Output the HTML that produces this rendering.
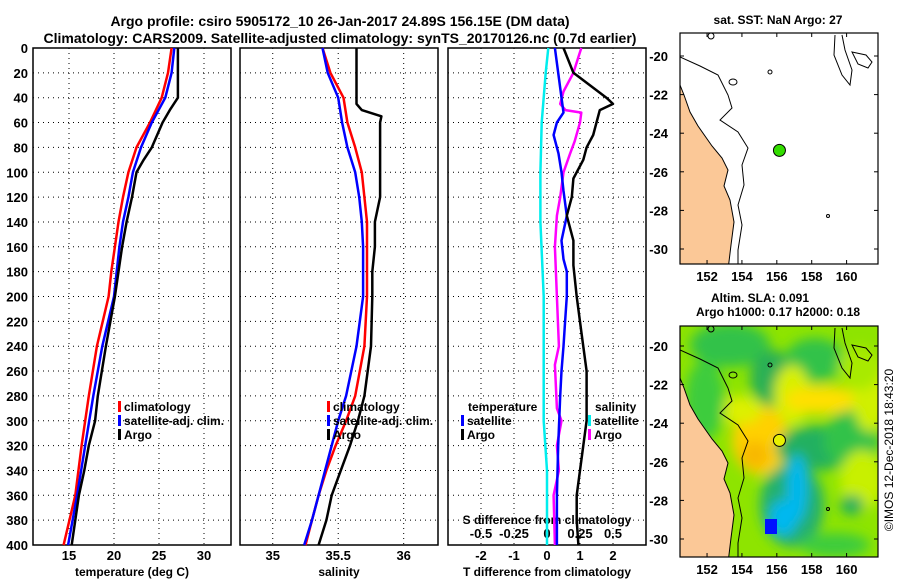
<!DOCTYPE html>
<html><head><meta charset="utf-8"><style>
body{margin:0;background:#fff;}
svg{display:block;font-family:"Liberation Sans",sans-serif;font-weight:bold;}
</style></head><body>
<svg id="c" width="900" height="580" viewBox="0 0 900 580" xmlns="http://www.w3.org/2000/svg">
<text x="340" y="26" font-size="14" text-anchor="middle">Argo profile: csiro 5905172_10 26-Jan-2017 24.89S 156.15E (DM data)</text>
<text x="340" y="43" font-size="14" text-anchor="middle">Climatology: CARS2009. Satellite-adjusted climatology: synTS_20170126.nc (0.7d earlier)</text>
<g id="g"></g>
</svg>
<script>
// ---- data ----
const depthT = [0,20,40,50,60,80,90,100,120,140,160,180,200,240,280,300,320,340,360,380,400];
const argoT = [27.1,27.1,27.1,26.2,25.4,24.2,23.3,22.5,22.0,21.4,20.9,20.5,20.1,19.1,18.2,17.9,17.2,16.7,16.1,15.7,15.3];
const depthC = [0,20,40,60,80,100,120,140,160,180,200,240,280,320,360,400];
const climT = [26.4,26.0,25.3,24.0,22.5,21.6,21.0,20.5,20.1,19.7,19.4,18.1,17.2,16.4,15.7,14.4];
const satT = [26.7,26.4,25.7,24.2,23.0,22.1,21.6,21.0,20.6,20.3,20.0,18.7,17.7,16.8,15.9,14.9];
const depthS = [0,45,50,55,60,120,140,160,180,200,240,280,300,320,340,360,380,400];
const argoS = [35.64,35.64,35.68,35.83,35.82,35.82,35.78,35.78,35.76,35.76,35.75,35.70,35.65,35.59,35.52,35.45,35.41,35.35];
const depthCS = [0,20,40,60,80,100,120,140,160,180,200,240,280,300,320,340,360,380,400];
const climS = [35.38,35.44,35.54,35.57,35.63,35.68,35.70,35.72,35.72,35.72,35.72,35.70,35.63,35.56,35.48,35.41,35.35,35.30,35.25];
const satS = [35.38,35.42,35.50,35.53,35.57,35.63,35.66,35.68,35.69,35.69,35.69,35.64,35.56,35.50,35.45,35.40,35.35,35.30,35.24];
const depthDA = [0,20,30,40,45,50,60,70,80,90,105,120,135,155,175,200,230,260,280,300,320,340,360,380,400];
const argoDT = [0.5,0.8,1.3,1.8,2.0,1.6,1.5,1.4,1.2,1.1,0.8,0.75,0.6,0.8,0.8,0.9,1.05,1.2,1.2,1.2,1.1,1.0,0.9,0.9,0.95];
const depthDS = [0,20,40,52,60,70,85,100,115,135,155,170,180,200,220,240,260,280,320,360,400];
const satDT = [0.24,0.34,0.44,0.5,0.3,0.2,0.35,0.44,0.5,0.6,0.44,0.5,0.6,0.6,0.55,0.5,0.44,0.4,0.34,0.3,0.3];
const depthMS = [0,20,35,45,50,52,60,75,85,100,120,135,160,200,240,255,290,300,320,340,360,400];
const argoDS = [0.26,0.2,0.125,0.1,0.14,0.26,0.25,0.21,0.175,0.125,0.1,0.075,0.06,0.075,0.09,0.06,0.075,0.11,0.075,0.09,0.05,0.06];
const depthCy = [0,20,60,100,140,200,300,340,400];
const satDS = [0.01,-0.01,-0.04,-0.05,-0.05,-0.025,-0.025,0,0];
const depthTicks = [0,20,40,60,80,100,120,140,160,180,200,220,240,260,280,300,320,340,360,380,400];
const tTicks = [15,20,25,30];
const sTicks = [35,35.5,36];
const dTTicks = [-2,-1,0,1,2];
const dSTicks = [-0.5,-0.25,0,0.25,0.5];
const dSLabels = ['-0.5','-0.25','0','0.25','0.5'];
const latTicks = [-20,-22,-24,-26,-28,-30];
const lonTicks = [152,154,156,158,160];

// ---- helpers ----
const NS='http://www.w3.org/2000/svg';
const G=document.getElementById('g');
function mk(tag,attrs,parent){const e=document.createElementNS(NS,tag);for(const k in attrs)e.setAttribute(k,attrs[k]);(parent||G).appendChild(e);return e;}
const top0=48,bot0=545;
const yD=d=>top0+(d/400)*(bot0-top0);
function scaleX(x0,x1,v0,v1){return v=>x0+(v-v0)/(v1-v0)*(x1-x0);}
const xT=scaleX(33,231,11,33);
const xS=scaleX(240,438,34.75,36.262);
const xDT=scaleX(448,646,-3,3);
const xDS=v=>xDT(v*4);

function panel(x0,name){
  const r=mk('rect',{x:x0,y:top0,width:198,height:bot0-top0,fill:'none',stroke:'#000','stroke-width':1.5});
  
  
  depthTicks.slice(1,-1).forEach(d=>{
    const l=mk('line',{x1:x0,x2:x0+198,y1:yD(d),y2:yD(d),stroke:'#000','stroke-dasharray':'1,4','stroke-width':1});
    
    
  });
}
function vgrid(vals,sx,name){
  vals.forEach(v=>{
    const l=mk('line',{x1:sx(v),x2:sx(v),y1:top0,y2:bot0,stroke:'#000','stroke-dasharray':'1,4','stroke-width':1});
    
    
  });
}
function line(depths,vals,sx,color,name,w){
  const pts=depths.map((d,i)=>sx(vals[i]).toFixed(1)+','+yD(d).toFixed(1)).join(' ');
  const p=mk('polyline',{points:pts,fill:'none',stroke:color,'stroke-width':w||2.5,'stroke-linejoin':'round'});
  
  
}
function txt(x,y,s,size,anchor,name,fill){
  const t=mk('text',{x:x,y:y,'font-size':size,'text-anchor':anchor||'middle',fill:fill||'#000'});
  t.textContent=s;
  
  
  return t;
}
function legItem(x,y,color,label,name){
  const b=mk('rect',{x:x,y:y-10,width:3,height:11,fill:color});
  
  
  txt(x+6,y,label,12,'start',name);
}

panel(33,'temperature-panel');panel(240,'salinity-panel');panel(448,'difference-panel');
vgrid(tTicks,xT,'grid-line-v');vgrid(sTicks,xS,'grid-line-v');vgrid(dTTicks,xDT,'grid-line-v');

depthTicks.forEach(d=>txt(28,yD(d)+5,String(d),13,'end','depth-tick-label'));
tTicks.forEach(v=>txt(xT(v),560,String(v),13,'middle','temp-tick-label'));
sTicks.forEach(v=>txt(xS(v),560,String(v),13,'middle','salinity-tick-label'));
dTTicks.forEach(v=>txt(xDT(v),560,String(v),13,'middle','tdiff-tick-label'));
dSTicks.forEach((v,i)=>txt(xDS(v),538,dSLabels[i],13,'middle','sdiff-tick-label'));
txt(132,576,'temperature (deg C)',12,'middle','temp-axis-title');
txt(339,576,'salinity',12,'middle','salinity-axis-title');
txt(547,576,'T difference from climatology',12,'middle','tdiff-axis-title');
txt(547,524,'S difference from climatology',12,'middle','sdiff-axis-title');

line(depthC,climT,xT,'#f00','temp-climatology-line');
line(depthC,satT,xT,'#00f','temp-satellite-line');
line(depthT,argoT,xT,'#000','temp-argo-line');
line(depthCS,climS,xS,'#f00','salinity-climatology-line');
line(depthCS,satS,xS,'#00f','salinity-satellite-line');
line(depthS,argoS,xS,'#000','salinity-argo-line');
line(depthCy,satDS,xDS,'#0ee','sdiff-satellite-line');
line(depthMS,argoDS,xDS,'#f0f','sdiff-argo-line');
line(depthDS,satDT,xDT,'#00f','tdiff-satellite-line');
line(depthDA,argoDT,xDT,'#000','tdiff-argo-line');

legItem(118,411,'#f00','climatology','legend-climatology');
legItem(118,425,'#00f','satellite-adj. clim.','legend-satellite');
legItem(118,439,'#000','Argo','legend-argo');
legItem(327,411,'#f00','climatology','legend-climatology');
legItem(327,425,'#00f','satellite-adj. clim.','legend-satellite');
legItem(327,439,'#000','Argo','legend-argo');
txt(468,411,'temperature',12,'start','legend-temperature-header');
legItem(461,425,'#00f','satellite','legend-t-satellite');
legItem(461,439,'#000','Argo','legend-t-argo');
txt(595,411,'salinity',12,'start','legend-salinity-header');
legItem(588,425,'#0ee','satellite','legend-s-satellite');
legItem(588,439,'#f0f','Argo','legend-s-argo');

// ---- maps ----
const mx0=680,mx1=878;
const lonX=scaleX(mx0,mx1,150.45,161.8);
function map(yTop,yBot,lat20,name,sla){
  const latY=l=>lat20+(-20-l)*19.3;
  const g=mk('g',{});
  
  
  const cid='clip'+name;
  const cp=mk('clipPath',{id:cid},g);mk('rect',{x:mx0,y:yTop,width:mx1-mx0,height:yBot-yTop},cp);
  const inner=mk('g',{'clip-path':'url(#'+cid+')'},g);
  if(sla){
    mk('rect',{x:mx0,y:yTop,width:198,height:yBot-yTop,fill:'#8ee400'},inner);
    const f=mk('filter',{id:'bl',x:'-50%',y:'-50%',width:'200%',height:'200%'},g);mk('feGaussianBlur',{stdDeviation:6},f);
    const bg=mk('g',{filter:'url(#bl)'},inner);
    const blobs=[[730,345,40,22,'#33c24a'],[772,378,22,28,'#2bb055'],[815,360,30,22,'#33c24a'],[792,395,18,30,'#d8f000'],[822,400,38,14,'#ffe000'],[760,440,28,35,'#ffd000'],[755,455,14,14,'#f8b800'],[818,448,42,22,'#22b060'],[852,440,28,30,'#33c24a'],[792,505,32,42,'#22b070'],[797,488,10,34,'#00b8f0'],[783,518,14,18,'#00b8f0'],[862,480,22,30,'#c8f000'],[870,392,18,40,'#d0f000'],[835,545,35,12,'#3ccc3c'],[852,505,12,10,'#22b060'],[860,368,22,22,'#a8ea00'],[740,410,22,14,'#ddf000'],[705,400,20,40,'#3ccc3c']];
    blobs.forEach(b=>mk('ellipse',{cx:b[0],cy:b[1],rx:b[2],ry:b[3],fill:b[4]},bg));
    mk('rect',{x:765,y:(yTop+193),width:12,height:15,fill:'#0010ff'},inner);
  }
  const s=yTop-33;
  const coast=[[680,85],[684,95],[690,112],[698,126],[712,146],[722,158],[728,170],[724,186],[730,200],[734,222],[731,245],[728,270]];
  const land='M680,'+(yTop)+' L680,'+(85+s)+' '+coast.map(p=>'L'+p[0]+','+(p[1]+s)).join(' ')+' L680,'+(yBot)+' Z';
  mk('path',{d:land,fill:'#fbc897',stroke:'#000','stroke-width':1},inner);
  const iso=[[680,57],[700,66],[718,75],[728,95],[732,108],[720,120],[738,132],[748,148],[742,165],[744,185],[738,205],[742,225],[738,250],[738,270]];
  mk('polyline',{points:iso.map(p=>p[0]+','+(p[1]+s)).join(' '),fill:'none',stroke:'#000','stroke-width':1},inner);
  mk('path',{d:`M835,${35+s} L834,${55+s} L842,${75+s} L850,${85+s} L852,${70+s} L845,${50+s} L842,${35+s}`,fill:'none',stroke:'#000','stroke-width':1},inner);
  mk('path',{d:`M852,${52+s} L866,${55+s} L872,${62+s} L868,${68+s} L858,${64+s} Z`,fill:'none',stroke:'#000','stroke-width':1},inner);
  mk('ellipse',{cx:711,cy:36+s,rx:3,ry:3,fill:'none',stroke:'#000'},inner);
  mk('ellipse',{cx:733,cy:82+s,rx:4,ry:3,fill:'none',stroke:'#000'},inner);
  mk('circle',{cx:770,cy:72+s,r:2,fill:'none',stroke:'#000'},inner);
  mk('circle',{cx:828,cy:216+s,r:1.5,fill:'none',stroke:'#000'},inner);
  const dot=mk('circle',{cx:lonX(156.15),cy:latY(-24.89),r:6,fill:sla?'#e8f000':'#33dd00',stroke:'#000','stroke-width':1},g);
  
  
  mk('rect',{x:mx0,y:yTop,width:198,height:yBot-yTop,fill:'none',stroke:'#000','stroke-width':1.2},g);
  latTicks.forEach(l=>{txt(668,latY(l)+5,String(l),13,'end','lat-tick-label');
    mk('line',{x1:mx0,x2:mx0+4,y1:latY(l),y2:latY(l),stroke:'#000'},g);mk('line',{x1:mx1-4,x2:mx1,y1:latY(l),y2:latY(l),stroke:'#000'},g);});
  lonTicks.forEach(v=>{txt(lonX(v),yBot+17,String(v),13,'middle','lon-tick-label');
    mk('line',{x1:lonX(v),x2:lonX(v),y1:yBot-4,y2:yBot,stroke:'#000'},g);mk('line',{x1:lonX(v),x2:lonX(v),y1:yTop,y2:yTop+4,stroke:'#000'},g);});
}
map(33,264,56,'sst-map',false);
map(326,557,346,'sla-map',true);
txt(778,24,'sat. SST: NaN Argo: 27',12,'middle','sst-map-title');
txt(760,302,'Altim. SLA: 0.091',12,'middle','sla-map-title-1');
txt(778,316,'Argo h1000: 0.17 h2000: 0.18',12,'middle','sla-map-title-2');
const cr=txt(0,0,'©IMOS 12-Dec-2018 18:43:20',12,'middle','timestamp-credit');
cr.setAttribute('font-weight','normal');
cr.setAttribute('transform','translate(893,450) rotate(-90)');
</script>
</body></html>
